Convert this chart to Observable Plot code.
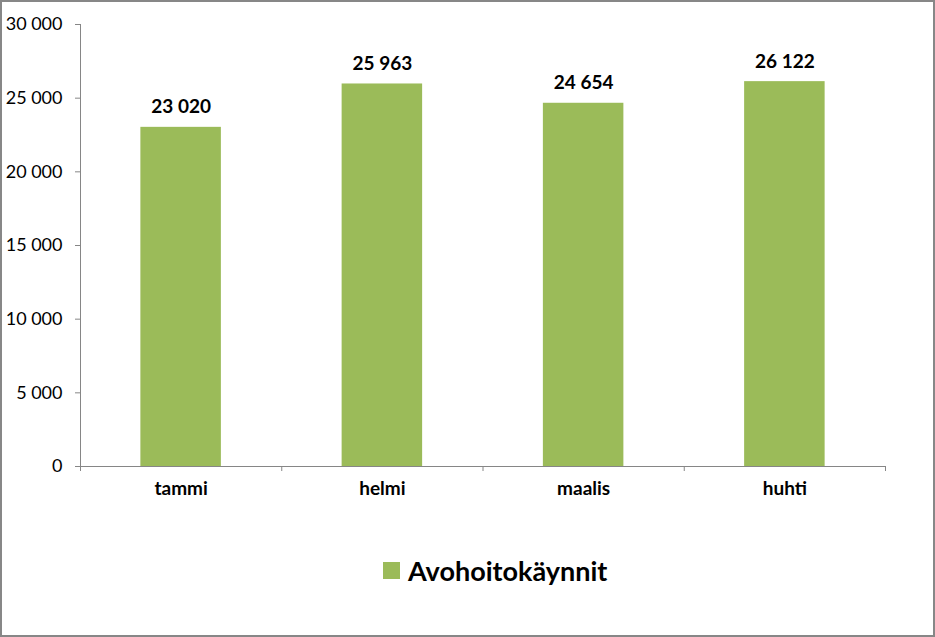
<!DOCTYPE html>
<html>
<head>
<meta charset="utf-8">
<script src="https://cdn.jsdelivr.net/npm/d3@7"></script>
<script src="https://cdn.jsdelivr.net/npm/@observablehq/plot@0.6"></script>
<style>
  html, body { margin: 0; padding: 0; background: #fff; }
  #frame { position: relative; width: 935px; height: 637px; box-sizing: border-box; border: 2px solid #878787; background: #fff; font-family: Lato, "Open Sans", sans-serif; overflow: hidden; }
  #legend { position: absolute; left: 381px; top: 552px; display: flex; align-items: center; font-weight: bold; font-size: 27px; color: #000; }
  #legend .sw { width: 17px; height: 17px; background: #9BBB59; margin-right: 8px; }
</style>
</head>
<body>
<div id="frame">
  <div id="chart"></div>
  <div id="legend"><span class="sw"></span><span>Avohoitokäynnit</span></div>
</div>
<script>
const months = ["tammi", "helmi", "maalis", "huhti"];
const visits = [23020, 25963, 24654, 26122];
const yTicks = [0, 5000, 10000, 15000, 20000, 25000, 30000];
const seriesName = "Avohoitokäynnit";

const data = months.map((m, i) => ({month: m, idx: i, value: visits[i]}));
const fmt = v => d3.format(",")(v).replace(/,/g, " ");
const axisColor = "#868686";
const barColor = "#9BBB59";

const chart = Plot.plot({
  width: 931,
  height: 520,
  marginLeft: 78,
  marginRight: 48,
  marginTop: 22,
  marginBottom: 56,
  style: {fontFamily: "Lato, 'Open Sans', sans-serif", background: "#fff"},
  x: {domain: [0, months.length], axis: null},
  y: {domain: [0, 30000], axis: null},
  marks: [
    Plot.rectY(data, {x1: d => d.idx + 0.3, x2: d => d.idx + 0.7, y: "value", fill: barColor}),
    Plot.text(data, {x: d => d.idx + 0.5, y: "value", text: d => fmt(d.value), lineAnchor: "bottom", dy: -14, fontWeight: "bold", fontSize: 19, fill: "#000"}),
    Plot.ruleX([0], {stroke: axisColor}),
    Plot.ruleY([0], {stroke: axisColor}),
    Plot.axisY({ticks: yTicks, tickFormat: fmt, tickSize: 5, tickPadding: 13, fontSize: 18, stroke: axisColor, color: "#000", anchor: "left", label: null}),
    Plot.axisX({ticks: d3.range(0, months.length + 1), tickFormat: () => "", tickSize: 5, stroke: axisColor, anchor: "bottom", label: null}),
    Plot.axisX({ticks: d3.range(months.length).map(i => i + 0.5), tickFormat: v => months[Math.floor(v)], tickSize: 0, tickPadding: 15, fontSize: 19, fontWeight: "bold", fill: "#000", anchor: "bottom", label: null})
  ]
});
document.getElementById("chart").appendChild(chart);
</script>
</body>
</html>
